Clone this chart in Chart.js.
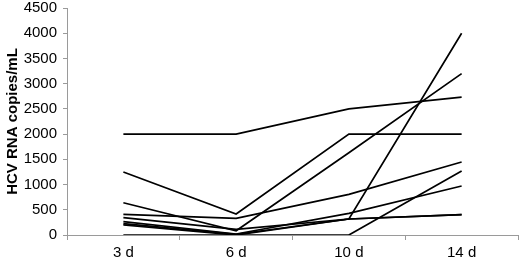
<!DOCTYPE html>
<html>
<head>
<meta charset="utf-8">
<script src="https://cdn.jsdelivr.net/npm/chart.js@4.4.1/dist/chart.umd.min.js"></script>
<style>
  html, body { margin: 0; padding: 0; background: #fff; }
  #wrap { width: 520px; height: 263px; position: relative; }
</style>
</head>
<body>
<div id="wrap"><canvas id="hcv-chart"></canvas></div>
<script>
// Sampling days on the x axis
const days = ["3 d", "6 d", "10 d", "14 d"];

// HCV RNA copies/mL per patient
const patient1 = [2000, 2000, 2500, 2735];
const patient2 = [1250, 415, 2000, 2000];
const patient3 = [640, 85, 1630, 3200];
const patient4 = [410, 330, 806, 1447];
const patient5 = [345, 110, 317, 4000];
const patient6 = [265, 20, 430, 971];
const patient7 = [225, 15, 317, 402];
const patient8 = [200, 0, 317, 402];
const patient9 = [0, 0, 0, 1268];

const yTicks = [0, 500, 1000, 1500, 2000, 2500, 3000, 3500, 4000, 4500];

const allSeries = [patient1, patient2, patient3, patient4, patient5,
                   patient6, patient7, patient8, patient9];

const axisGrey = "#9a9a9a";
const font = { family: "'Liberation Sans', Arial, sans-serif", size: 15, lineHeight: 1 };

function initChart() {
    const canvas = document.getElementById("hcv-chart");
    const datasets = allSeries.map((vals, i) => ({
        label: "Patient " + (i + 1),
        data: vals,
        borderColor: "#000",
        backgroundColor: "#000",
        borderWidth: 1.7,
        pointRadius: 0,
        tension: 0,
        fill: false,
    }));

    new Chart(canvas, {
        type: "line",
        data: { labels: days, datasets },
        options: {
            responsive: true,
            maintainAspectRatio: false,
            animation: false,
            events: [],
            layout: { padding: { top: 0, right: 2, left: 0, bottom: 0 } },
            plugins: {
                legend: { display: false },
                tooltip: { enabled: false },
            },
            scales: {
                x: {
                    offset: true,
                    grid: {
                        offset: true,
                        drawOnChartArea: false,
                        color: axisGrey,
                        tickLength: 5,
                    },
                    border: { color: axisGrey, width: 1 },
                    ticks: { color: "#000", font, padding: 5, maxRotation: 0 },
                    afterFit: s => { s.height = 28; },
                },
                y: {
                    min: 0,
                    max: 4500,
                    afterBuildTicks: s => { s.ticks = yTicks.map(v => ({ value: v })); },
                    grid: {
                        drawOnChartArea: false,
                        color: axisGrey,
                        tickLength: 4,
                    },
                    border: { color: axisGrey, width: 1 },
                    ticks: {
                        color: "#000",
                        font,
                        padding: 6,
                        callback: v => String(v),
                    },
                    title: {
                        display: true,
                        text: "HCV RNA copies/mL",
                        color: "#000",
                        font: { family: font.family, size: 15, weight: "bold" },
                        padding: { top: 4, bottom: 0 },
                    },
                    afterFit: s => { s.width = 67; s.paddingTop = 8; },
                },
            },
        },
    });
}

initChart();
</script>
</body>
</html>
